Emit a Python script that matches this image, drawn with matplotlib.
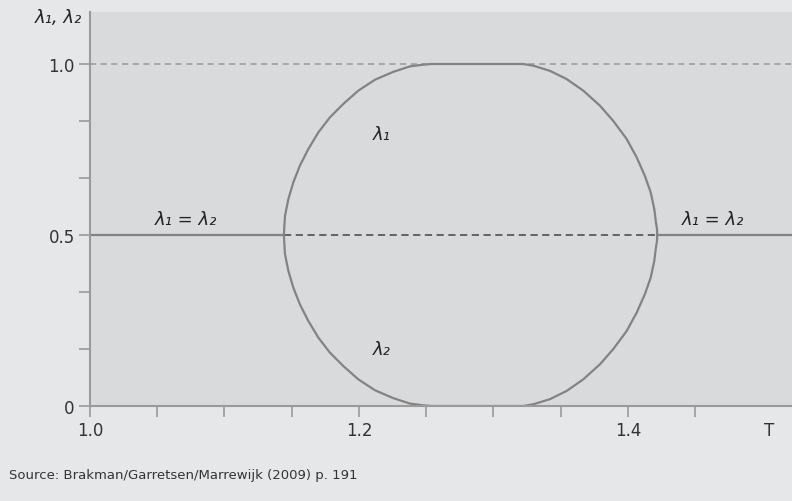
import matplotlib
matplotlib.use('Agg')
import matplotlib.pyplot as plt
import matplotlib.transforms as mtransforms

plt.rcParams['font.family'] = ['Liberation Sans Narrow', 'DejaVu Sans']

# Obere Verzweigung (lambda_1) zwischen den beiden Bifurkationspunkten
T_ast = [1.1442, 1.1445, 1.1450, 1.1475, 1.1512, 1.1561, 1.1623, 1.1698, 1.1784,
         1.1883, 1.1995, 1.2119, 1.2255, 1.2379, 1.2478, 1.2540,
         1.3222, 1.3296, 1.3420, 1.3544, 1.3668, 1.3792, 1.3890, 1.3990,
         1.4065, 1.4126, 1.4169, 1.4196, 1.4208, 1.4216, 1.4218]
lambda1 = [0.500, 0.525, 0.556, 0.605, 0.654, 0.703, 0.751, 0.800, 0.844,
           0.883, 0.922, 0.954, 0.977, 0.993, 0.998, 1.000,
           1.000, 0.995, 0.980, 0.956, 0.922, 0.878, 0.834, 0.781,
           0.727, 0.673, 0.625, 0.576, 0.537, 0.518, 0.500]
lambda2 = [0.500, 0.475, 0.444, 0.395, 0.346, 0.297, 0.249, 0.200, 0.156,
           0.117, 0.078, 0.046, 0.023, 0.007, 0.002, 0.000,
           0.000, 0.005, 0.020, 0.044, 0.078, 0.122, 0.166, 0.219,
           0.273, 0.327, 0.375, 0.424, 0.463, 0.482, 0.500]

# symmetrisches Gleichgewicht lambda_1 = lambda_2
T_stabil_links = [1.0, 1.1442]
T_instabil = [1.1442, 1.4218]
T_stabil_rechts = [1.4218, 1.53]
symmetrisch = 0.5

x_ticks = [1.0, 1.05, 1.1, 1.15, 1.2, 1.25, 1.3, 1.35, 1.4, 1.45]
x_labels = ['1.0', '', '', '', '1.2', '', '', '', '1.4', '']
y_ticks = [0, 0.5, 1.0]
y_labels = ['0', '0.5', '1.0']
y_minor = [1/6, 2/6, 4/6, 5/6]

fig = plt.figure(figsize=(7.92, 5.02), dpi=100, facecolor='#e6e7e9')
ax = fig.add_axes([90/792, 1 - 407/502, 702/792, 394/502])
ax.set_facecolor('#d9dadc')

kurve = '#838383'
ax.axhline(1.0, color='#9a9a9a', lw=1.1, ls=(0, (4, 3)))
ax.plot(T_stabil_links, [symmetrisch]*2, color=kurve, lw=1.6, solid_capstyle='butt')
ax.plot(T_stabil_rechts, [symmetrisch]*2, color=kurve, lw=1.6, solid_capstyle='butt')
ax.plot(T_instabil, [symmetrisch]*2, color='#5a5a5a', lw=1.3, ls=(0, (4, 2.5)))
ax.plot(T_ast, lambda1, color=kurve, lw=1.6)
ax.plot(T_ast, lambda2, color=kurve, lw=1.6)

ax.set_xlim(1.0, 1.522)
ax.set_ylim(0, 1.152)

for s in ['top', 'right']:
    ax.spines[s].set_visible(False)
for s in ['left', 'bottom']:
    ax.spines[s].set_color('#9a9a9a')
    ax.spines[s].set_linewidth(1.5)

ax.set_xticks(x_ticks)
ax.set_xticklabels(x_labels)
ax.set_yticks(y_ticks)
ax.set_yticklabels(y_labels)
ax.set_yticks(y_minor, minor=True)
ax.tick_params(axis='both', which='both', direction='out', length=8, width=1.2,
               color='#9a9a9a', labelcolor='#333333', labelsize=12)
ax.tick_params(axis='x', pad=3)
ax.tick_params(axis='y', pad=3)

trans = mtransforms.blended_transform_factory(ax.transData, ax.transAxes)
ax.text(1.505, -0.062, 'T', transform=trans, ha='center', va='center',
        fontsize=12, color='#333333')

# Beschriftungen kursiv wie im Original
txt = dict(color='#222222', fontsize=13, ha='center', va='center',
           style='italic', family='DejaVu Sans')
ax.text(1.217, 0.795, 'λ₁', **txt)
ax.text(1.217, 0.167, 'λ₂', **txt)
ax.text(1.0714, 0.548, 'λ₁ = λ₂', **txt)
ax.text(1.463, 0.548, 'λ₁ = λ₂', **txt)

fig.text(58/792, 1 - 18/502, 'λ₁, λ₂', ha='center', va='center',
         fontsize=13, color='#222222', style='italic', family='DejaVu Sans')
fig.text(9/792, 1 - 476/502, 'Source: Brakman/Garretsen/Marrewijk (2009) p. 191',
         ha='left', va='center', fontsize=9.5, color='#333333')

fig.savefig('out.png', dpi=100, facecolor=fig.get_facecolor())
